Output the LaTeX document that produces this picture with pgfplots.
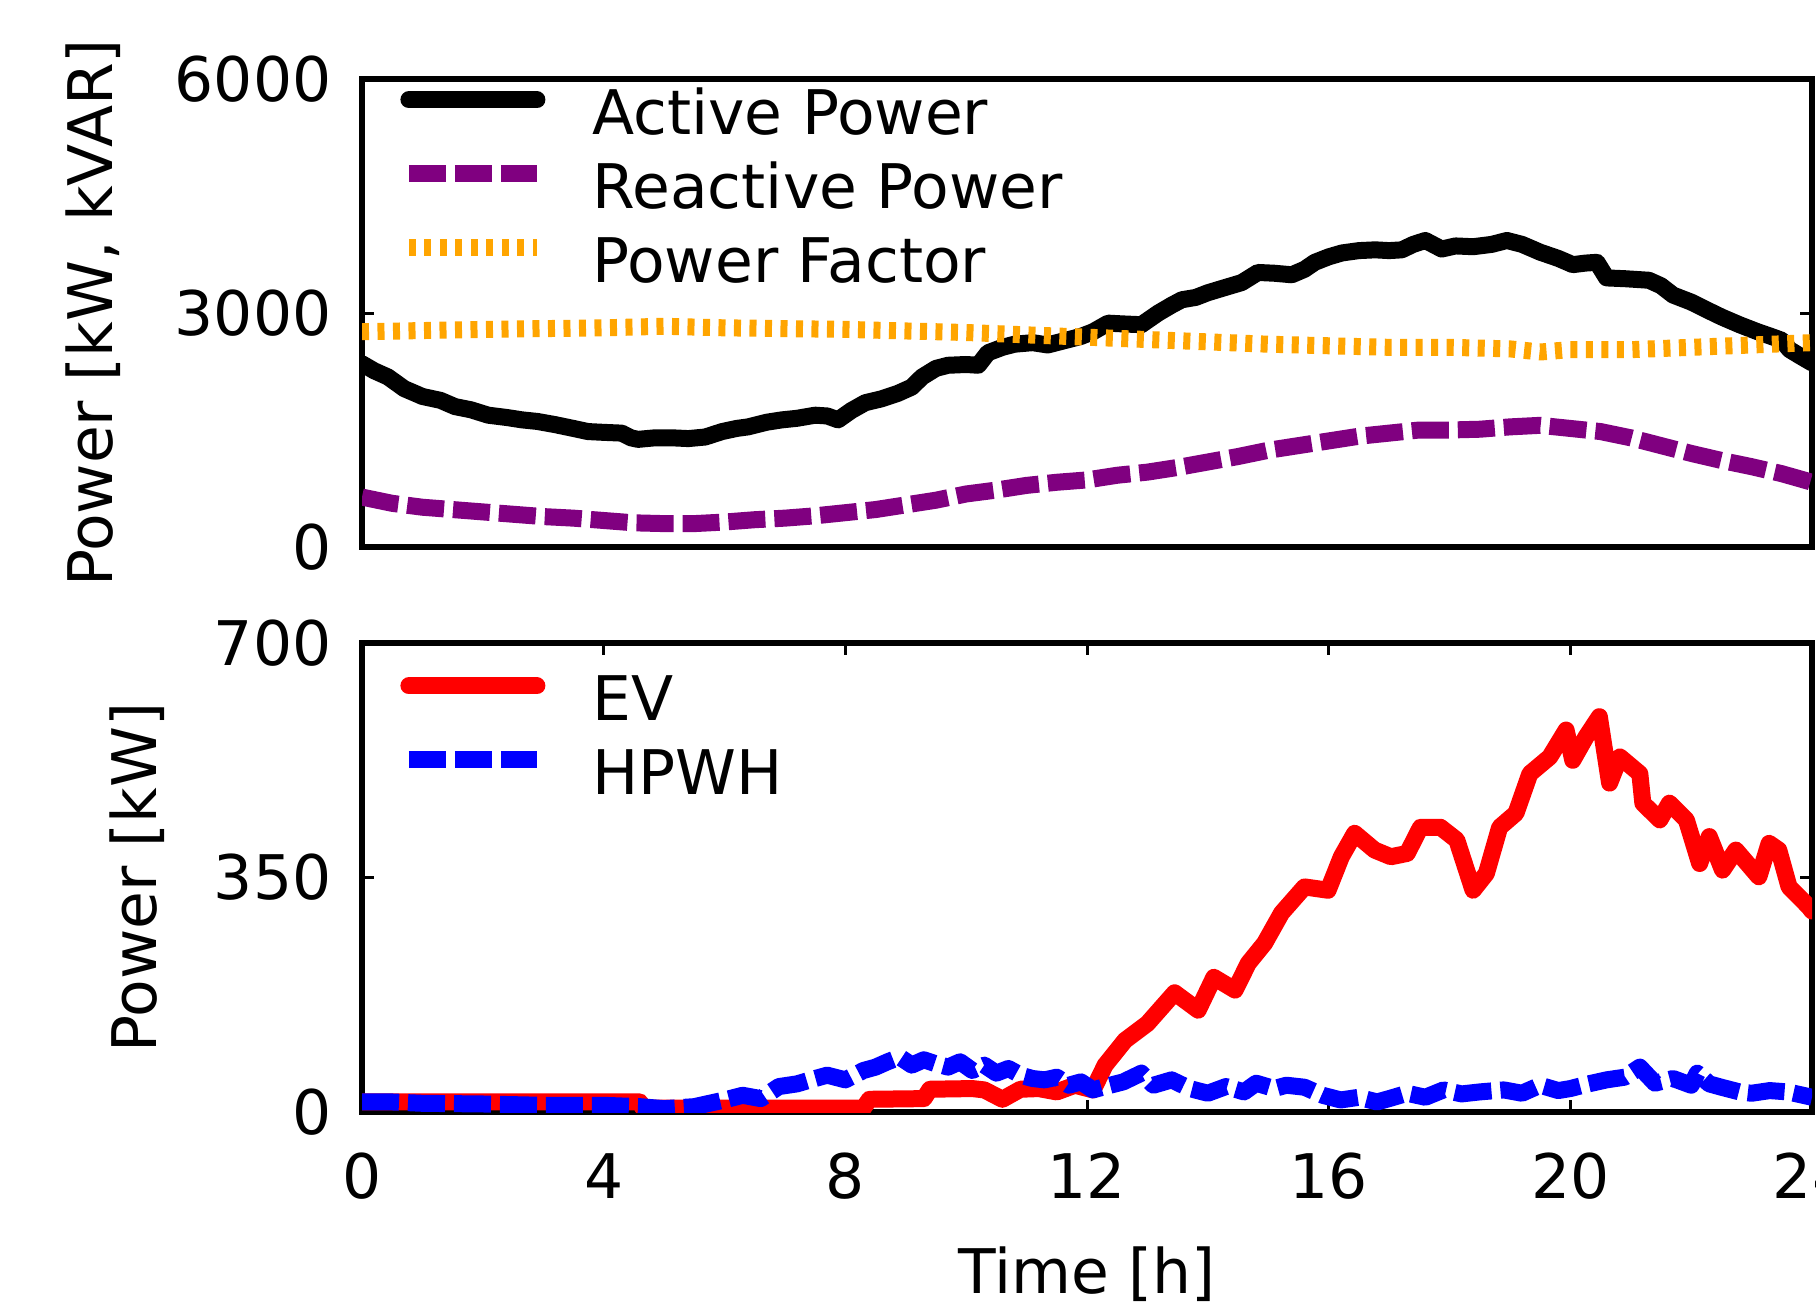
\documentclass[border=0pt]{standalone}
\usepackage{pgfplots}
\pgfplotsset{compat=1.18}
\usepackage{fontspec}
\setmainfont{DejaVu Sans}

\definecolor{mplpurple}{RGB}{128,0,128}
\definecolor{mplorange}{RGB}{255,165,0}

% active, reactive power and power factor (kW, kVAR)
\pgfplotstableread{
h p
0 2350
0.2 2260
0.43 2180
0.7 2030
1.0 1930
1.3 1880
1.54 1800
1.8 1760
2.09 1690
2.4 1660
2.65 1630
2.9 1610
3.19 1570
3.5 1520
3.74 1480
4.0 1470
4.3 1460
4.45 1400
4.57 1380
4.85 1400
5.13 1400
5.4 1390
5.68 1410
5.96 1480
6.2 1520
6.39 1540
6.7 1600
6.95 1630
7.2 1650
7.5 1690
7.7 1680
7.88 1630
8.1 1750
8.33 1850
8.6 1900
8.87 1970
9.1 2050
9.27 2180
9.5 2290
9.7 2330
10.0 2340
10.2 2330
10.36 2490
10.6 2560
10.8 2600
11.1 2620
11.35 2590
11.6 2640
11.9 2700
12.1 2760
12.35 2870
12.6 2860
12.9 2850
13.18 3000
13.4 3100
13.57 3170
13.8 3200
14.0 3260
14.3 3330
14.56 3390
14.83 3520
15.1 3510
15.39 3490
15.6 3560
15.77 3650
16.0 3720
16.22 3770
16.5 3800
16.77 3810
17.0 3800
17.21 3810
17.4 3880
17.6 3930
17.87 3820
18.1 3860
18.39 3850
18.7 3880
18.95 3930
19.2 3880
19.5 3780
19.8 3700
20.04 3620
20.25 3640
20.44 3650
20.6 3450
20.9 3440
21.3 3420
21.5 3350
21.7 3230
22.0 3140
22.26 3040
22.5 2950
22.8 2850
23.1 2760
23.36 2690
23.5 2650
23.63 2530
23.8 2450
24.0 2360
}\tabactive

\pgfplotstableread{
h q
0 640
0.5 560
1.0 510
1.5 480
2 450
2.5 420
3 390
3.5 370
4 340
4.5 310
5 300
5.5 300
6 320
6.5 350
7 370
7.5 400
8 440
8.5 480
9 540
9.5 600
10 680
10.5 730
11 790
11.5 830
12 860
12.5 920
13 960
13.5 1020
14 1090
14.5 1160
15 1240
15.5 1300
16 1360
16.5 1420
17 1460
17.5 1500
18 1500
18.5 1510
19 1540
19.5 1560
20 1520
20.5 1480
21 1400
21.5 1300
22 1200
22.5 1110
23 1030
23.5 940
24 830
}\tabreactive

\pgfplotstableread{
h pf
0 2760
2 2790
4 2810
5 2830
6 2810
8 2790
10 2750
11 2720
12 2690
13 2660
14 2630
15 2600
16 2580
17 2560
18 2560
19 2540
19.5 2500
20 2530
21 2530
22 2560
23 2590
24 2620
}\tabpf

% EV and HPWH load (kW)
\pgfplotstableread{
h ev
0 15
4.6 15
4.65 6
8.3 6
8.4 19
9.3 20
9.4 34
10.1 35
10.3 33
10.6 19
10.9 34
11.2 35
11.5 30
11.8 40
12.1 33
12.3 70
12.63 107
13.0 132
13.45 178
13.84 152
14.1 201
14.45 182
14.67 222
14.94 252
15.22 297
15.6 336
15.99 331
16.21 381
16.43 416
16.76 391
17.03 381
17.3 386
17.52 425
17.85 425
18.12 406
18.39 331
18.61 356
18.83 425
19.1 446
19.33 505
19.66 530
19.93 570
20.04 525
20.26 560
20.48 590
20.65 491
20.82 530
21.15 505
21.2 461
21.48 436
21.64 461
21.92 436
22.14 371
22.3 411
22.52 361
22.74 391
23.12 351
23.29 401
23.45 391
23.62 336
23.95 306
24 300
}\tabev

\pgfplotstableread{
h w
0 15
0.5 15
1 13
2 12
3 10
4 10
4.6 8
5.0 5
5.5 8
6.0 18
6.3 25
6.6 20
6.9 38
7.2 42
7.5 50
7.7 55
8.0 48
8.3 62
8.5 67
8.7 75
8.9 82
9.1 70
9.3 78
9.5 72
9.7 67
9.9 75
10.1 62
10.3 70
10.5 58
10.7 65
10.9 55
11.1 50
11.3 48
11.5 52
11.7 40
11.9 45
12.1 33
12.3 38
12.6 45
12.9 58
13.1 40
13.4 48
13.7 35
14.0 28
14.3 38
14.6 30
14.8 43
15.1 35
15.3 40
15.6 37
15.9 25
16.2 18
16.5 22
16.8 15
17.0 20
17.3 28
17.6 22
17.9 33
18.2 27
18.5 30
18.9 33
19.2 28
19.5 40
19.8 32
20.0 35
20.3 42
20.6 48
20.9 52
21.15 67
21.4 43
21.7 50
22.0 40
22.1 58
22.3 42
22.5 37
22.8 30
23.0 28
23.3 32
23.6 30
23.8 26
24 22
}\tabhpwh

\pgfplotsset{
  panel/.style={
    scale only axis,
    width=14.5cm,
    xmin=0, xmax=24,
    axis line style={line width=0.06cm},
    every tick/.style={black, line width=0.03cm},
    major tick length=0.12cm,
    tick align=inside,
    /pgf/number format/assume math mode=true,
    /pgf/number format/1000 sep={},
    yticklabel style={inner sep=0pt, xshift=-0.3cm},
    xticklabel style={yshift=-0.2cm},
    legend cell align=left,
    legend style={draw=none, fill=none, inner sep=0pt, column sep=0.47cm, row sep=0pt,
      nodes={inner sep=0pt, text height=0.5cm, text depth=0.24cm}},
    legend image code/.code={\draw[#1] (0cm,0.22cm) -- (1.28cm,0.22cm);},
    every axis plot/.append style={line width=0.17cm, line join=round},
  },
}

\begin{document}
\fontsize{17.5}{21}\selectfont
\begin{tikzpicture}
\begin{axis}[
  panel,
  at={(3.62cm,7.62cm)}, anchor=south west,
  height=4.68cm,
  ymin=0, ymax=6000,
  ytick={0,3000,6000},
  xtick=\empty,
  ylabel={Power [kW, kVAR]},
  every axis y label/.style={at={(axis description cs:-0.1855,0.5)}, rotate=90, anchor=center},
  legend style={at={(axis description cs:0.026,0.989)}, anchor=north west},
]
\addplot[black, line cap=round] table[x=h, y=p] {\tabactive};
\addlegendentry{Active Power}
\addplot[mplpurple, dash pattern=on 0.37cm off 0.09cm] table[x=h, y=q] {\tabreactive};
\addlegendentry{Reactive Power}
\addplot[mplorange, dash pattern=on 0.07cm off 0.085cm] table[x=h, y=pf] {\tabpf};
\addlegendentry{Power Factor}
\end{axis}

\begin{axis}[
  panel,
  at={(3.62cm,1.97cm)}, anchor=south west,
  height=4.69cm,
  ymin=0, ymax=700,
  ytick={0,350,700},
  xtick={0,4,...,24},
  xlabel={Time [h]},
  ylabel={Power [kW]},
  every axis y label/.style={at={(axis description cs:-0.155,0.5)}, rotate=90, anchor=center},
  every axis x label/.style={at={(axis description cs:0.5,-0.345)}, anchor=center},
  legend style={at={(axis description cs:0.026,0.942)}, anchor=north west},
]
\addplot[red, line cap=round] table[x=h, y=ev] {\tabev};
\addlegendentry{EV}
\addplot[blue, dash pattern=on 0.37cm off 0.09cm] table[x=h, y=w] {\tabhpwh};
\addlegendentry{HPWH}
\end{axis}

\node[anchor=east, inner sep=0pt] at (0.04cm,1.62cm) {0};

\pgfresetboundingbox
\useasboundingbox (0,0) rectangle (18.16cm,13.09cm);
\end{tikzpicture}
\end{document}
